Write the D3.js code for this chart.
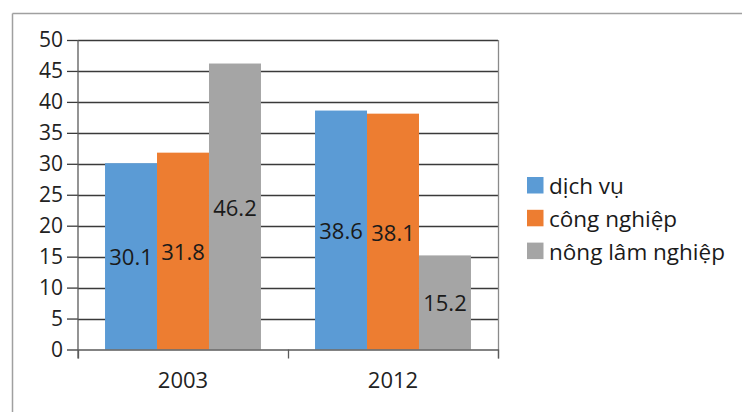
<!DOCTYPE html>
<html><head><meta charset="utf-8">
<script src="https://cdn.jsdelivr.net/npm/d3@7"></script>
<style>body{margin:0;background:#fff}svg{display:block;font-family:"Open Sans",sans-serif}</style>
</head><body><svg id="c" width="742" height="412"></svg>
<script>
const categories = ["2003", "2012"];
const seriesNames = ["dịch vụ", "công nghiệp", "nông lâm nghiệp"];
const dichVu = [30.1, 38.6];
const congNghiep = [31.8, 38.1];
const nongLamNghiep = [46.2, 15.2];
const yTicks = [0, 5, 10, 15, 20, 25, 30, 35, 40, 45, 50];
const colors = ["#5B9BD5", "#ED7D31", "#A5A5A5"];

const seriesValues = [dichVu, congNghiep, nongLamNghiep];
const svg = d3.select("#c");
const pLeft = 78, pRight = 498, pTop = 40, pBottom = 349.5;

// outer frame
svg.append("line").attr("x1", 12.5).attr("x2", 742).attr("y1", 13.5).attr("y2", 13.5).attr("stroke", "#a0a0a0").attr("stroke-width", 1.5);
svg.append("line").attr("x1", 12.5).attr("x2", 12.5).attr("y1", 13.5).attr("y2", 412).attr("stroke", "#a0a0a0").attr("stroke-width", 1.5);

const x = d3.scaleBand().domain(categories).range([pLeft, pRight]).paddingInner(0).paddingOuter(0);
const x1 = d3.scaleBand().domain(d3.range(seriesNames.length)).range([0, x.bandwidth()]).paddingOuter(0.52);
const y = d3.scaleLinear().domain([0, 50]).range([pBottom, pTop]);

// gridlines
svg.append("g").selectAll("line").data(yTicks.filter(t => t > 0)).join("line")
  .attr("x1", pLeft).attr("x2", pRight).attr("y1", d => Math.round(y(d)) + 0.5).attr("y2", d => Math.round(y(d)) + 0.5)
  .attr("stroke", "#3a3a3a").attr("stroke-width", 1.3);
// right border of plot
svg.append("line").attr("x1", pRight + 0.5).attr("x2", pRight + 0.5).attr("y1", pTop).attr("y2", pBottom + 9)
  .attr("stroke", "#8a8a8a").attr("stroke-width", 1.3);

// bars
const groups = svg.append("g").selectAll("g").data(categories).join("g")
  .attr("transform", d => `translate(${x(d)},0)`);
groups.selectAll("rect").data((c, ci) => seriesValues.map((s, si) => ({si, v: s[ci]}))).join("rect")
  .attr("x", d => x1(d.si)).attr("width", x1.bandwidth())
  .attr("y", d => y(d.v)).attr("height", d => y(0) - y(d.v))
  .attr("fill", d => colors[d.si]);
groups.selectAll("text").data((c, ci) => seriesValues.map((s, si) => ({si, v: s[ci]}))).join("text")
  .attr("x", d => x1(d.si) + x1.bandwidth() / 2)
  .attr("y", d => (y(d.v) + y(0)) / 2)
  .attr("text-anchor", "middle").attr("dominant-baseline", "central")
  .attr("font-size", 22).attr("fill", "#1a1a1a")
  .text(d => d.v.toFixed(1));

// y axis
const yAxis = svg.append("g").attr("transform", `translate(${pLeft},0)`)
  .call(d3.axisLeft(y).tickValues(yTicks).tickSize(11).tickPadding(4).tickFormat(d3.format("d")));
yAxis.select(".domain").remove();
yAxis.append("line").attr("x1", 0).attr("x2", 0).attr("y1", pTop).attr("y2", pBottom + 9).attr("stroke", "#5a5a5a").attr("stroke-width", 1.3);
yAxis.selectAll(".tick line").attr("stroke", "#3a3a3a").attr("stroke-width", 1.3);
yAxis.selectAll(".tick text").attr("font-size", 21).attr("fill", "#222").attr("font-family", "Open Sans, sans-serif");

// x axis
const xAxis = svg.append("g").attr("transform", `translate(0,${pBottom})`)
  .call(d3.axisBottom(x).tickSize(0).tickPadding(23));
xAxis.select(".domain").attr("stroke", "#5a5a5a").attr("stroke-width", 1.3);
xAxis.selectAll(".tick text").attr("font-size", 22).attr("fill", "#222").attr("font-family", "Open Sans, sans-serif");
xAxis.selectAll(".sep").data([pLeft, pLeft + x.bandwidth(), pRight]).join("line").attr("class", "sep")
  .attr("x1", d => d + 0.5).attr("x2", d => d + 0.5).attr("y1", 0).attr("y2", 9)
  .attr("stroke", "#5a5a5a").attr("stroke-width", 1.3);

// legend
const legend = svg.append("g").attr("transform", "translate(527,177)");
const li = legend.selectAll("g").data(seriesNames).join("g").attr("transform", (d, i) => `translate(0,${i * 32.8})`);
li.append("rect").attr("width", 16.5).attr("height", 16.5).attr("fill", (d, i) => colors[i]);
li.append("text").attr("x", 22).attr("y", 8.5).attr("dominant-baseline", "central")
  .attr("font-size", 22.5).attr("fill", "#1a1a1a").text(d => d);
</script></body></html>
